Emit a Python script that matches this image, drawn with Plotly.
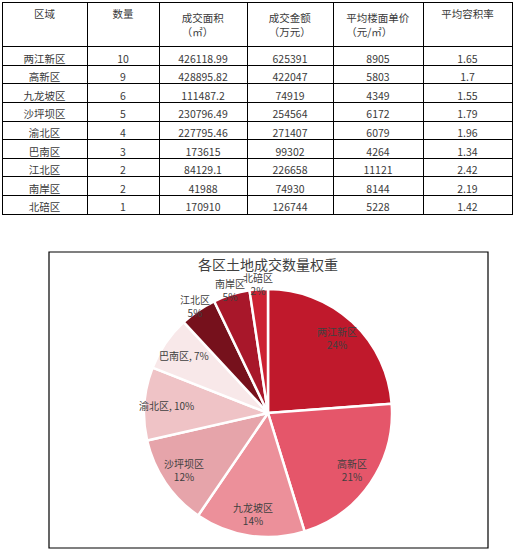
import math
import plotly.graph_objects as go

# 表格数据
districts = ['两江新区', '高新区', '九龙坡区', '沙坪坝区', '渝北区', '巴南区', '江北区', '南岸区', '北碚区']
counts = [10, 9, 6, 5, 4, 3, 2, 2, 1]
areas = ['426118.99', '428895.82', '111487.2', '230796.49', '227795.46', '173615', '84129.1', '41988', '170910']
amounts = [625391, 422047, 74919, 254564, 271407, 99302, 226658, 74930, 126744]
unit_prices = [8905, 5803, 4349, 6172, 6079, 4264, 11121, 8144, 5228]
plot_ratios = ['1.65', '1.7', '1.55', '1.79', '1.96', '1.34', '2.42', '2.19', '1.42']
headers = ['区域', '数量', '成交面积<br>（㎡）', '成交金额<br>（万元）', '平均楼面单价<br>（元/㎡）', '平均容积率']

# 饼图配色
colors = ['#C0192C', '#E5566A', '#EC909A', '#E6A4AA', '#EFC3C6', '#F8E8E9', '#76111C', '#A8172A', '#CC2233']

W, H = 514, 552
font_cn = 'Noto Sans CJK SC'

# 饼图位置 (像素)
cx, cy, R = 268, 413, 124

table = go.Table(
    domain=dict(x=[2 / W, 512 / W], y=[1 - 216 / H, 1 - 2 / H]),
    columnwidth=[85, 72, 88, 86, 90, 89],
    header=dict(values=headers, align='center', height=30,
                line=dict(color='black', width=1), fill=dict(color='white'),
                font=dict(family=font_cn, size=10.5, color='#3a3a3a')),
    cells=dict(values=[districts, counts, areas, amounts, unit_prices, plot_ratios],
               align='center', height=18.6,
               line=dict(color='black', width=1), fill=dict(color='white'),
               font=dict(family=font_cn, size=10.5, color='#3a3a3a')),
)

pie = go.Pie(
    labels=districts, values=counts, sort=False, direction='clockwise', rotation=0,
    marker=dict(colors=colors, line=dict(color='white', width=2.5)),
    textinfo='none',
    domain=dict(x=[(cx - R) / W, (cx + R) / W], y=[1 - (cy + R) / H, 1 - (cy - R) / H]),
    showlegend=False, hoverinfo='label+value+percent',
)

# 数据标签：按扇区中心角计算位置
total = sum(counts)
annotations = []
cum = 0
for name, v in zip(districts, counts):
    mid = (cum + v / 2) / total * 2 * math.pi
    cum += v
    pct = round(100 * v / total)
    if v / total < 0.06:
        text, r = f'{name}<br>{pct}%', R * 1.04
    elif v / total < 0.11:
        text, r = f'{name}, {pct}%', R * 0.82
    else:
        text, r = f'{name}<br>{pct}%', R * 0.82
    px = cx + r * math.sin(mid)
    py = cy - r * math.cos(mid)
    annotations.append(dict(x=px / W, y=1 - py / H, xref='paper', yref='paper',
                            text=text, showarrow=False, xanchor='center', yanchor='middle',
                            font=dict(family=font_cn, size=10, color='#404040')))

annotations.append(dict(x=cx / W, y=1 - 264 / H, xref='paper', yref='paper',
                        text='各区土地成交数量权重', showarrow=False,
                        xanchor='center', yanchor='middle',
                        font=dict(family=font_cn, size=14, color='#404040')))

fig = go.Figure(data=[table, pie])
fig.update_layout(
    width=W, height=H,
    margin=dict(l=0, r=0, t=0, b=0),
    paper_bgcolor='white',
    annotations=annotations,
    shapes=[dict(type='rect', xref='paper', yref='paper',
                 x0=49 / W, x1=488 / W, y0=1 - 548 / H, y1=1 - 252 / H,
                 line=dict(color='black', width=1.2))],
)

fig.write_html('out.html', config={'displayModeBar': False},
               post_script="document.body.style.margin='0';")
